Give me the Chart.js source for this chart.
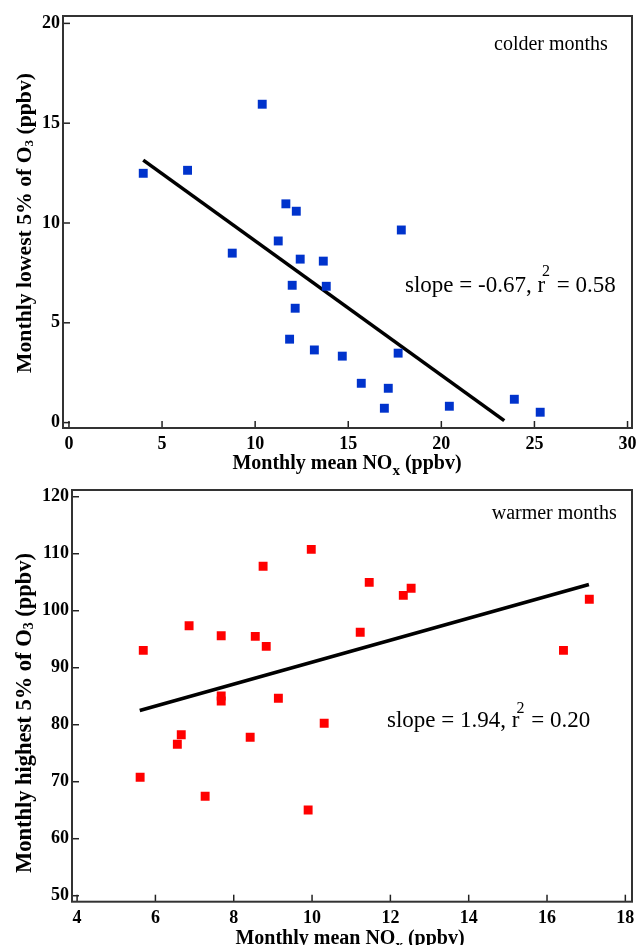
<!DOCTYPE html>
<html>
<head>
<meta charset="utf-8">
<script src="https://cdn.jsdelivr.net/npm/chart.js@4/dist/chart.umd.min.js"></script>
<style>
  html, body { margin: 0; padding: 0; background: #fff; overflow: hidden; width: 636px; height: 945px; }
  #c1 { position: absolute; left: 0; top: 0; }
  #c2 { position: absolute; left: 0; top: 470px; }
</style>
</head>
<body>
<canvas id="c1" width="636" height="478"></canvas>
<canvas id="c2" width="636" height="490"></canvas>
<script>
// ---------- DATA ----------
// Colder months: monthly mean NOx (ppbv) vs monthly lowest 5% of O3 (ppbv)
const coldNOx = [3.99, 6.37, 10.38, 11.65, 12.21, 11.24, 8.77, 12.42, 11.99, 12.15, 11.85, 13.18, 13.66, 13.82, 14.68, 15.70, 17.15, 16.94, 17.68, 17.85, 20.43, 23.92, 25.31];
const coldO3  = [12.49, 12.64, 15.95, 10.96, 10.59, 9.10, 8.49, 8.19, 6.88, 5.73, 4.18, 3.64, 8.09, 6.83, 3.33, 1.97, 1.72, 0.72, 3.48, 9.65, 0.82, 1.17, 0.52];
const coldFitX = [3.99, 23.38];
const coldFitY = [13.15, 0.10];
const coldXTicks = [0, 5, 10, 15, 20, 25, 30];
const coldYTicks = [0, 5, 10, 15, 20];

// Warmer months: monthly mean NOx (ppbv) vs monthly highest 5% of O3 (ppbv)
const warmNOx = [5.69, 6.86, 7.68, 8.55, 8.83, 8.75, 9.98, 7.68, 7.68, 9.14, 11.46, 12.33, 12.53, 11.23, 16.42, 17.08, 5.61, 6.56, 6.66, 8.42, 7.27, 9.90, 10.31];
const warmO3  = [93.05, 97.37, 95.61, 95.50, 93.75, 107.79, 110.77, 85.04, 84.16, 84.63, 104.98, 102.70, 103.93, 96.21, 93.05, 102.00, 70.77, 76.56, 78.25, 77.79, 67.44, 65.04, 80.25];
const warmFitX = [5.60, 17.07];
const warmFitY = [82.5, 104.6];
const warmXTicks = [4, 6, 8, 10, 12, 14, 16, 18];
const warmYTicks = [50, 60, 70, 80, 90, 100, 110, 120];

const coldLabel = 'colder months';
const warmLabel = 'warmer months';
const coldStat = ['slope = -0.67, r', '2', ' = 0.58'];
const warmStat = ['slope = 1.94, r', '2', ' = 0.20'];

// ---------- HELPERS ----------
const SERIF = "'Liberation Serif', 'Times New Roman', Times, serif";
const pts = (xs, ys) => xs.map((x, i) => ({ x: x, y: ys[i] }));

function drawRuns(ctx, runs, x, y, align) {
  let total = 0;
  runs.forEach(r => { ctx.font = r.font; r.w = ctx.measureText(r.text).width; total += r.w + (r.dx || 0); });
  let cx = align === 'center' ? x - total / 2 : x;
  ctx.textBaseline = 'alphabetic';
  ctx.textAlign = 'left';
  runs.forEach(r => {
    ctx.font = r.font;
    cx += (r.dx || 0);
    ctx.fillText(r.text, cx, y + (r.dy || 0));
    cx += r.w;
  });
}

const decor = {
  id: 'decor',
  afterDraw(chart, args, o) {
    const { ctx, chartArea: a, scales } = chart;
    ctx.save();
    // inward tick marks
    ctx.strokeStyle = '#222';
    ctx.lineWidth = 1.5;
    scales.x.ticks.forEach(t => {
      const px = scales.x.getPixelForValue(t.value);
      ctx.beginPath(); ctx.moveTo(px, a.bottom); ctx.lineTo(px, a.bottom - 7); ctx.stroke();
    });
    scales.y.ticks.forEach(t => {
      const py = scales.y.getPixelForValue(t.value);
      ctx.beginPath(); ctx.moveTo(a.left, py); ctx.lineTo(a.left + 7, py); ctx.stroke();
    });
    // frame
    ctx.lineWidth = 2;
    ctx.strokeStyle = '#333';
    ctx.strokeRect(a.left, a.top, a.right - a.left, a.bottom - a.top);

    ctx.fillStyle = '#000';
    // x title
    drawRuns(ctx, [
      { text: 'Monthly mean NO', font: 'bold 20px ' + SERIF },
      { text: 'x', font: 'bold 15px ' + SERIF, dy: 6 },
      { text: ' (ppbv)', font: 'bold 20px ' + SERIF }
    ], o.xTitle.x, o.xTitle.y, 'center');
    // y title
    const fs = o.yTitle.size;
    ctx.save();
    ctx.translate(o.yTitle.x, o.yTitle.y);
    ctx.rotate(-Math.PI / 2);
    drawRuns(ctx, [
      { text: o.yTitle.text, font: 'bold ' + fs + 'px ' + SERIF },
      { text: '3', font: 'bold ' + Math.round(fs * 0.62) + 'px ' + SERIF, dy: 2 },
      { text: ' (ppbv)', font: 'bold ' + fs + 'px ' + SERIF }
    ], 0, 0, 'center');
    ctx.restore();
    // season label
    drawRuns(ctx, [{ text: o.season.text, font: '20px ' + SERIF }], o.season.x, o.season.y, 'left');
    // statistics
    drawRuns(ctx, [
      { text: o.stat.text[0], font: '23px ' + SERIF },
      { text: o.stat.text[1], font: '16px ' + SERIF, dy: -o.stat.sup, dx: -3 },
      { text: o.stat.text[2], font: '23px ' + SERIF, dx: 1 }
    ], o.stat.x, o.stat.y, 'left');
    ctx.restore();
  }
};

function makeChart(id, cfg) {
  const tickFont = { family: SERIF, size: 18, weight: 'bold' };
  return new Chart(document.getElementById(id), {
    type: 'scatter',
    data: {
      datasets: [
        {
          data: pts(cfg.xs, cfg.ys),
          pointStyle: 'rect',
          pointRadius: 6.3,
          pointHoverRadius: 6.3,
          backgroundColor: cfg.color,
          borderColor: cfg.color,
          borderWidth: 0
        },
        {
          data: pts(cfg.fitX, cfg.fitY),
          showLine: true,
          pointRadius: 0,
          borderColor: '#000',
          borderWidth: 3.6,
          borderCapStyle: 'butt',
          fill: false
        }
      ]
    },
    options: {
      responsive: false,
      animation: false,
      devicePixelRatio: 1,
      events: [],
      layout: { autoPadding: false, padding: { left: 0, top: cfg.padTop, right: 4, bottom: 0 } },
      plugins: {
        legend: { display: false },
        tooltip: { enabled: false },
        decor: cfg.decor
      },
      scales: {
        x: {
          type: 'linear',
          min: cfg.xMin, max: cfg.xMax,
          grid: { display: true, drawOnChartArea: false, drawTicks: false },
          border: { display: false },
          ticks: { font: tickFont, color: '#000', padding: 6, maxRotation: 0, autoSkip: false },
          afterBuildTicks: s => { s.ticks = cfg.xTicks.map(v => ({ value: v })); },
          afterFit: s => { s.height = cfg.xAxisH; s.paddingLeft = 0; s.paddingRight = 0; s.paddingTop = 0; s.paddingBottom = 0; }
        },
        y: {
          type: 'linear',
          min: cfg.yMin, max: cfg.yMax,
          grid: { display: true, drawOnChartArea: false, drawTicks: false },
          border: { display: false },
          ticks: { font: tickFont, color: '#000', padding: 3, autoSkip: false },
          afterBuildTicks: s => { s.ticks = cfg.yTicks.map(v => ({ value: v })); },
          afterFit: s => { s.width = cfg.yAxisW; s.paddingLeft = 0; s.paddingRight = 0; s.paddingTop = 0; s.paddingBottom = 0; }
        }
      }
    },
    plugins: [decor]
  });
}

makeChart('c1', {
  xs: coldNOx, ys: coldO3, fitX: coldFitX, fitY: coldFitY, color: '#0033cc',
  xTicks: coldXTicks, yTicks: coldYTicks,
  xMin: -0.32, xMax: 30.24, yMin: -0.27, yMax: 20.37,
  padTop: 16, xAxisH: 50, yAxisW: 63,
  decor: {
    xTitle: { x: 347, y: 469.3 },
    yTitle: { x: 31, y: 223, size: 21.7, text: 'Monthly lowest 5% of O' },
    season: { text: coldLabel, x: 494, y: 49.5 },
    stat: { text: coldStat, x: 405, y: 292, sup: 16 }
  }
});

makeChart('c2', {
  xs: warmNOx, ys: warmO3, fitX: warmFitX, fitY: warmFitY, color: '#ff0000',
  xTicks: warmXTicks, yTicks: warmYTicks,
  xMin: 3.87, xMax: 18.17, yMin: 48.95, yMax: 121.18,
  padTop: 20, xAxisH: 58.3, yAxisW: 72,
  decor: {
    xTitle: { x: 350, y: 474.3 },
    yTitle: { x: 31, y: 243, size: 22.5, text: 'Monthly highest 5% of O' },
    season: { text: warmLabel, x: 491.7, y: 49.3 },
    stat: { text: warmStat, x: 387, y: 256.7, sup: 14 }
  }
});
</script>
</body>
</html>
